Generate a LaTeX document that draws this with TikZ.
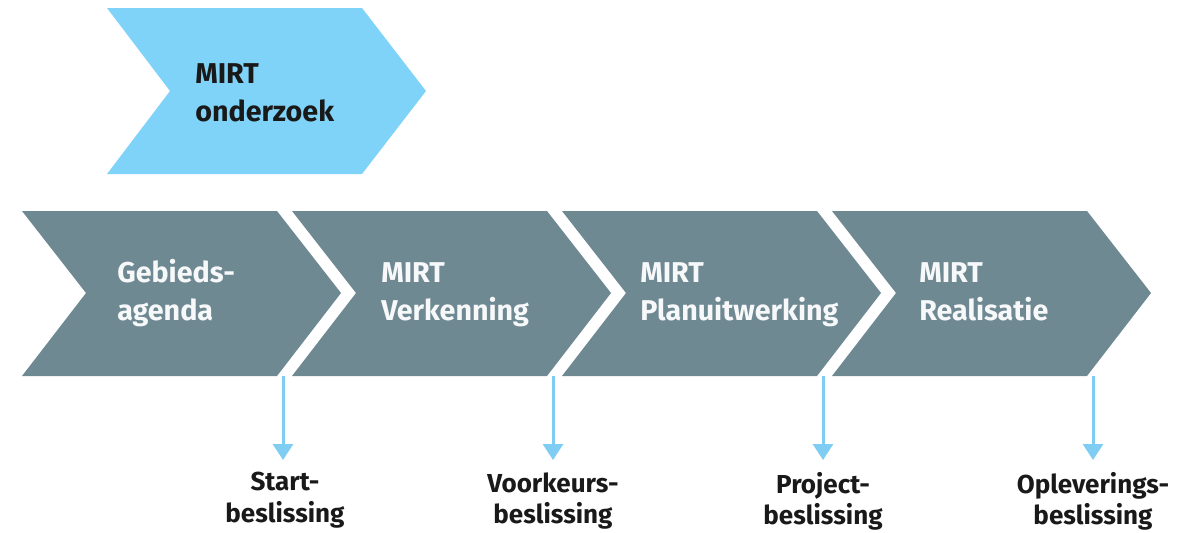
\documentclass[tikz,border=0pt]{standalone}
\usepackage{fontspec}
\setmainfont{Fira Sans}
\usetikzlibrary{arrows.meta}
\definecolor{mirtblauw}{HTML}{80D3F8}
\definecolor{mirtgrijs}{HTML}{6F8993}
\definecolor{pijlblauw}{HTML}{7FCDF2}

\begin{document}
\begin{tikzpicture}[x=0.75pt,y=-0.75pt,
  fase/.style={anchor=west,align=left,inner sep=0pt,text=white!94!mirtgrijs,
    font=\bfseries\fontsize{21.5}{28.5}\selectfont},
  onderzoek/.style={fase,text=black!90},
  besluit/.style={anchor=north,align=center,inner sep=0pt,text=black!90,
    font=\bfseries\fontsize{19.5}{23.5}\selectfont},
  pijl/.style={pijlblauw,line width=2.25pt,-{Triangle[width=15pt,length=12pt]},shorten >=9pt}]
\useasboundingbox (0,0) rectangle (1194,532);
% MIRT onderzoek
\fill[mirtblauw] (107,8) -- (362,8) -- (426,91) -- (362,174) -- (107,174) -- (170,91) -- cycle;
\node[onderzoek] (mo) at (195,95) {\strut MIRT\\\strut onderzoek};
% fasen
\fill[mirtgrijs] (22,211) -- (277,211) -- (341,293) -- (277,376) -- (22,376) -- (86,293) -- cycle;
\fill[mirtgrijs] (292,211) -- (547,211) -- (611,293) -- (547,376) -- (292,376) -- (356,293) -- cycle;
\fill[mirtgrijs] (562,211) -- (817,211) -- (881,293) -- (817,376) -- (562,376) -- (626,293) -- cycle;
\fill[mirtgrijs] (832,211) -- (1087,211) -- (1151,293) -- (1087,376) -- (832,376) -- (896,293) -- cycle;
\node[fase] (ga) at (117,294) {\strut Gebieds-\\\strut agenda};
\node[fase] (mv) at (381,294) {\strut MIRT\\\strut Verkenning};
\node[fase] (mp) at (640,294) {\strut MIRT\\\strut Planuitwerking};
\node[fase] (mr) at (919,294) {\strut MIRT\\\strut Realisatie};
% beslismomenten
\coordinate (b1) at (283,376);
\coordinate (b2) at (553,376);
\coordinate (b3) at (823,376);
\coordinate (b4) at (1093,376);
\node[besluit] (start) at (285,472) {Start-\\beslissing};
\node[besluit] (voorkeur) at (553,472) {Voorkeurs-\\beslissing};
\node[besluit] (project) at (823,472) {Project-\\beslissing};
\node[besluit] (oplevering) at (1093,472) {Opleverings-\\beslissing};
\draw[pijl] (b1) -- (b1 |- start.north);
\draw[pijl] (b2) -- (voorkeur.north);
\draw[pijl] (b3) -- (project.north);
\draw[pijl] (b4) -- (oplevering.north);
\end{tikzpicture}
\end{document}
